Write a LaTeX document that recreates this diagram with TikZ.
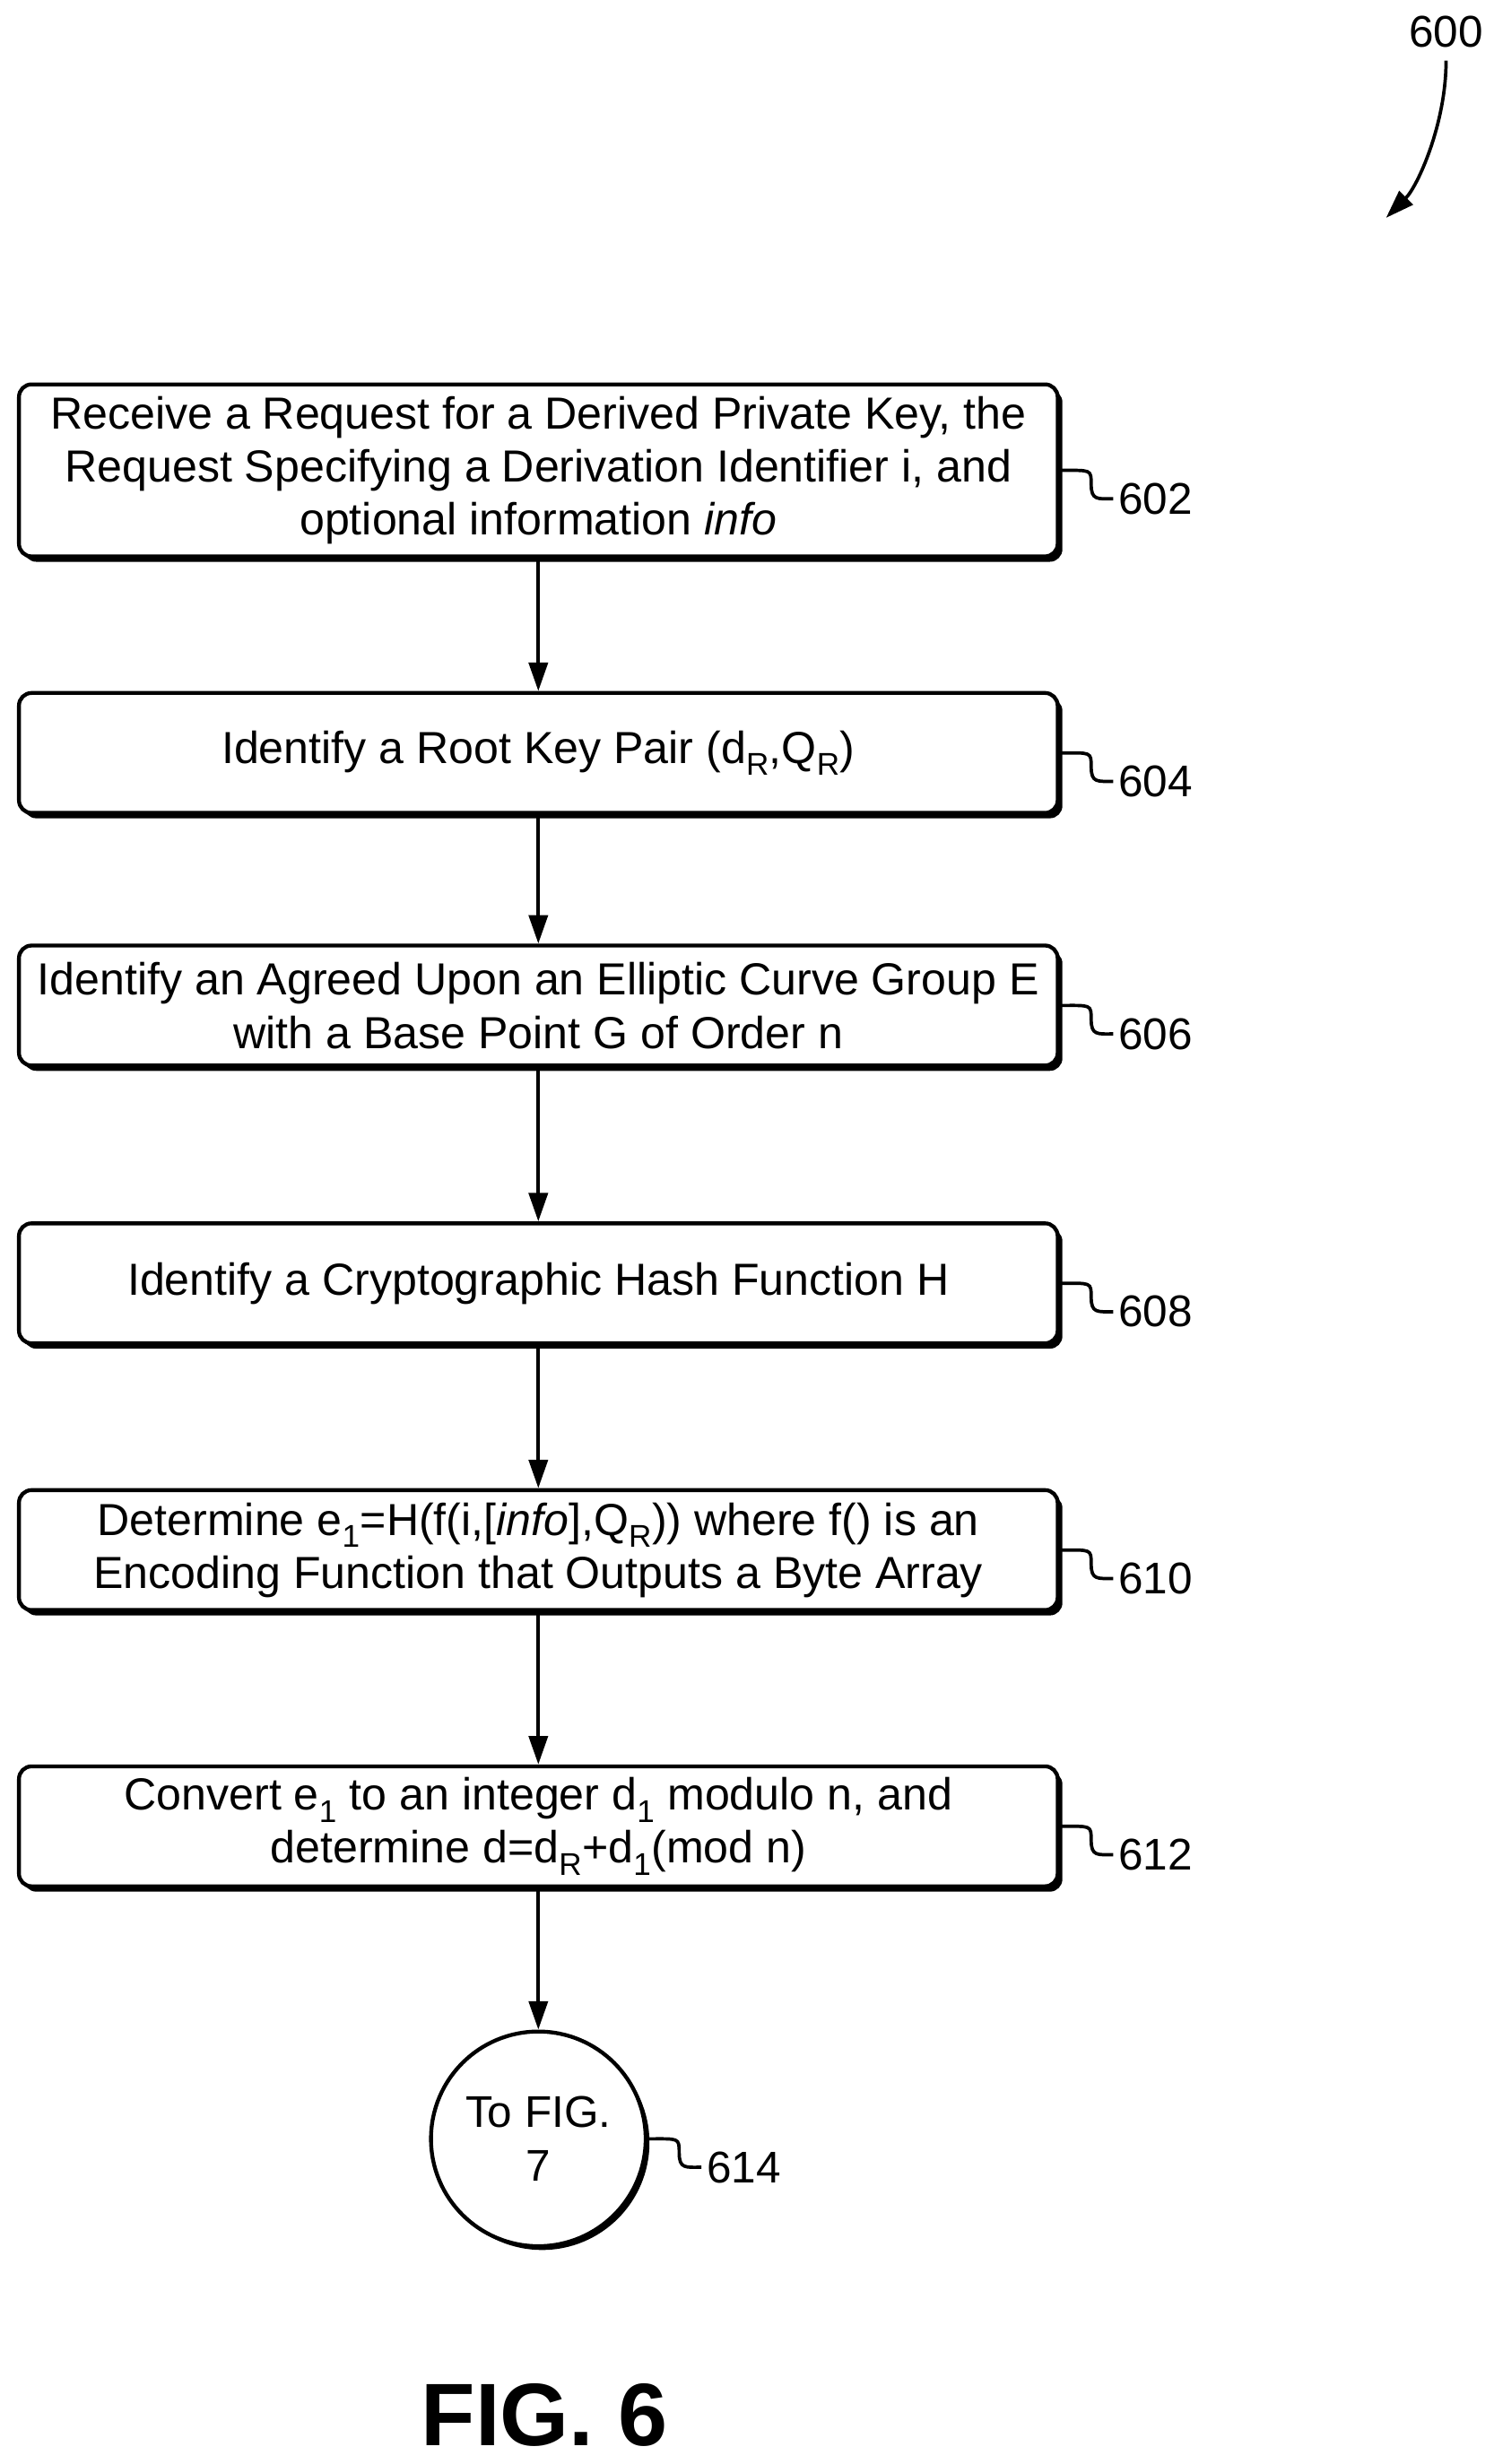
\documentclass[tikz,border=0pt]{standalone}
\usepackage{fontspec}
\setmainfont{Liberation Sans}
\usetikzlibrary{positioning,shadows,arrows.meta}
\tikzset{
  stepbox/.style={draw, line width=3.5pt, rounded corners=0.4cm, minimum width=32.9cm,
    align=center, fill=white, font=\fontsize{40.5}{48}\selectfont,
    drop shadow={shadow xshift=0.15cm, shadow yshift=-0.17cm, fill=black, opacity=1}},
  flow/.style={-{Triangle[length=0.9cm,width=0.6cm]}, line width=3pt},
  tag/.style={font=\fontsize{40}{48}\selectfont, anchor=west},
  squig/.style={line width=3pt}
}
\newcommand{\tagline}[2]{% squiggle from a box to its number
  \draw[squig] (#1) .. controls +(1cm,0) and +(0,0.5cm) .. ++(1cm,-0.45cm)
    .. controls +(0,-0.5cm) and +(-0.5cm,0) .. ++(0.7cm,-0.45cm) node[tag] {#2};}
\begin{document}
\begin{tikzpicture}[x=0.05cm, y=-0.05cm]
\useasboundingbox (0,0) rectangle (946,1561);
% steps
\node[stepbox, minimum height=5.45cm] (s602) at (341,298)
  {Receive a Request for a Derived Private Key, the\\Request Specifying a Derivation Identifier i, and\\optional information \textit{info}};
\node[stepbox, minimum height=3.8cm] (s604) at (341,477)
  {Identify a Root Key Pair (d\textsubscript{R},Q\textsubscript{R})};
\node[stepbox, minimum height=3.8cm] (s606) at (341,637)
  {Identify an Agreed Upon an Elliptic Curve Group E\\with a Base Point G of Order n};
\node[stepbox, minimum height=3.8cm] (s608) at (341,813)
  {Identify a Cryptographic Hash Function H};
\node[stepbox, minimum height=3.8cm] (s610) at (341,982)
  {Determine e\textsubscript{1}=H(f(i,[\textit{info}],Q\textsubscript{R})) where f() is an\\Encoding Function that Outputs a Byte Array};
\node[stepbox, minimum height=3.8cm] (s612) at (341,1157)
  {Convert e\textsubscript{1} to an integer d\textsubscript{1} modulo n, and\\determine d=d\textsubscript{R}+d\textsubscript{1}(mod n)};
\node[draw, circle, line width=3.5pt, minimum size=6.8cm, align=center, fill=white,
  font=\fontsize{40}{48}\selectfont,
  drop shadow={shadow xshift=0.12cm, shadow yshift=-0.12cm, fill=black, opacity=1}] (s614) at (341,1355)
  {To FIG.\\7};
% connectors
\draw[flow] (s602) -- (s604);
\draw[flow] (s604) -- (s606);
\draw[flow] (s606) -- (s608);
\draw[flow] (s608) -- (s610);
\draw[flow] (s610) -- (s612);
\draw[flow] (s612) -- (s614);
% reference numbers
\tagline{s602.east}{602}
\tagline{s604.east}{604}
\tagline{s606.east}{606}
\tagline{s608.east}{608}
\tagline{s610.east}{610}
\tagline{s612.east}{612}
\tagline{s614.east}{614}
\node[font=\fontsize{40}{48}\selectfont] (n600) at (916,20) {600};
\coordinate (a600) at (878,138);
\draw[flow] ([yshift=-0.3cm]n600.south) .. controls +(0,-2cm) and +(1cm,1cm) .. (a600);
\node[font=\bfseries\fontsize{80}{96}\selectfont] (fig) at (345,1530) {FIG. 6};
\end{tikzpicture}
\end{document}
